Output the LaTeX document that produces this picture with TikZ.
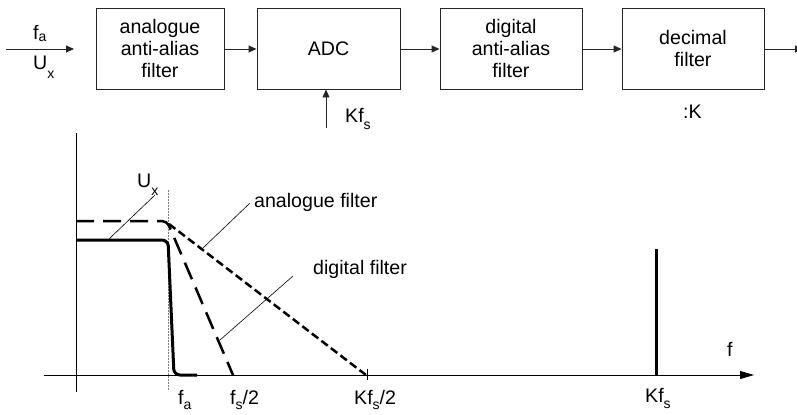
\documentclass[tikz,border=0pt]{standalone}
\usepackage{fontspec}
\setmainfont{Liberation Sans}
\usetikzlibrary{arrows.meta}
\newcommand\sbs[2][7bp]{\raisebox{-#1}{\fontsize{14bp}{14bp}\selectfont #2}}
\begin{document}
\begin{tikzpicture}[x=1bp,y=-1bp,
  every node/.style={font=\fontsize{19.6bp}{21.6bp}\selectfont, inner sep=0pt},
  blockbox/.style={draw=black!85, line width=0.9bp, minimum width=#1, minimum height=81bp, align=center},
  arr/.style={draw=black!85, line width=0.9bp, -{Triangle[length=8bp,width=7bp]}},
  leader/.style={draw=black, line width=0.6bp},
  lbl/.style={anchor=base west}]
\useasboundingbox (0,0) rectangle (797,414);
% --- block diagram ---
\node[blockbox=128bp] (b1) at (160,48.5) {analogue\\anti-alias\\filter};
\node[blockbox=143bp] (adc) at (328.5,48.5) {ADC};
\node[blockbox=142bp] (b3) at (511,48.5) {digital\\anti-alias\\filter};
\node[blockbox=142bp] (b4) at (693,48.5) {decimal\\filter};
\coordinate (inA) at (6,49);
\coordinate (inB) at (74,49);
\coordinate (out) at (803,49);
\coordinate (kfs) at (326,128);
\draw[arr] (inA) -- (inB);
\draw[arr] (b1.east |- 0,49) -- (adc.west |- 0,49);
\draw[arr] (adc.east |- 0,49) -- (b3.west |- 0,49);
\draw[arr] (b3.east |- 0,49) -- (b4.west |- 0,49);
\draw[arr] (b4.east |- 0,49) -- (out);
\draw[arr] (kfs) -- (kfs |- adc.south);
\node[lbl] (lfa) at (33,39.5) {f\sbs[2bp]{a}};
\node[lbl] (lux) at (33,69.5) {U\sbs[9bp]{x}};
\node[lbl] (lkfs) at (345,122) {Kf\sbs{s}};
\node[lbl] (lk) at (683,118) {:K};
% --- graph ---
\coordinate (yb) at (76,392);
\coordinate (yt) at (76,133);
\coordinate (xl) at (44,375);
\coordinate (xr) at (754,375);
\draw[line width=0.9bp] (yb) -- (yt);
\draw[line width=0.9bp, -{Triangle[length=14bp,width=8bp]}] (xl) -- (xr);
\draw[gray, line width=1bp, dash pattern=on 2bp off 1bp] (168,190) -- (168,390);
% U_x curve
\draw[line width=3bp, rounded corners=6bp] (76,240) -- (168,240) -- (174,375) -- (197,375);
% digital filter
\draw[line width=2.5bp, dash pattern=on 18bp off 9bp, rounded corners=5bp] (76,221) -- (167,221) -- (233,375);
% analogue filter
\draw[line width=2.5bp, dash pattern=on 8bp off 4bp] (169,224) -- (366,375);
\draw[line width=0.8bp] (367,369) -- (367,380);
% Kf_s line
\draw[line width=3bp] (656,249) -- (656,375);
% leaders
\draw[leader] (155,195) -- (109,239);
\draw[leader] (250,203) -- (203,248);
\draw[leader] (293,276) -- (220,340);
\node[lbl] (gux) at (137,187) {U\sbs[8bp]{x}};
\node[lbl] (gaf) at (254,207) {analogue filter};
\node[lbl] (gdf) at (313,274) {digital filter};
\node[lbl] (gf) at (727,356) {f};
\node[lbl] (gfa) at (178,404) {f\sbs[5.5bp]{a}};
\node[lbl] (gfs) at (230,404) {f\sbs[5.5bp]{s}/2};
\node[lbl] (gkfs2) at (354,404) {Kf\sbs[5.5bp]{s}/2};
\node[lbl] (gkfs) at (645,402) {Kf\sbs[6bp]{s}};
\end{tikzpicture}
\end{document}
